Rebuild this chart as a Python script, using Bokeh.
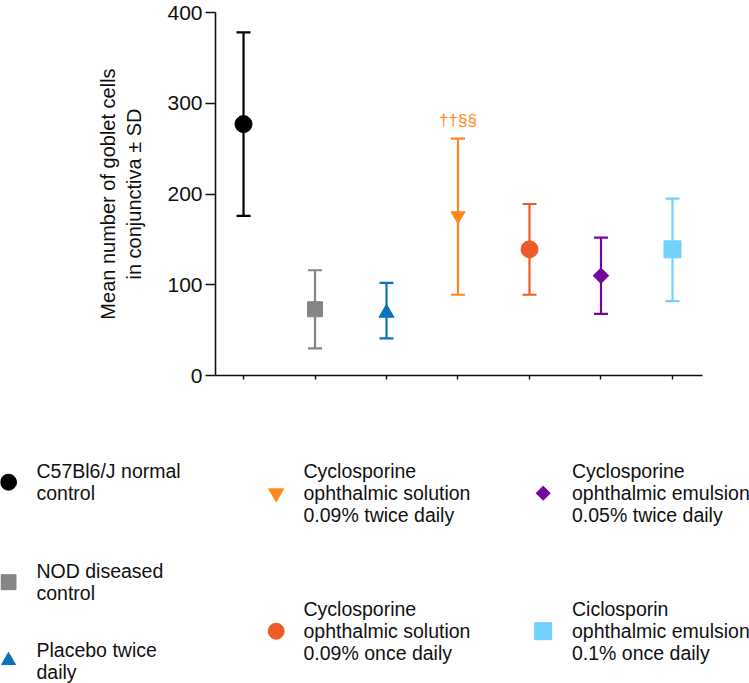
from bokeh.plotting import figure
from bokeh.layouts import column
from bokeh.models import Range1d, FixedTicker
from bokeh.embed import file_html
from bokeh.resources import INLINE
from bokeh.core.properties import value
import math

# ---------------- data ----------------
positions = [1, 2, 3, 4, 5, 6, 7]
legend_labels = [
    "C57Bl6/J normal\ncontrol",
    "NOD diseased\ncontrol",
    "Placebo twice\ndaily",
    "Cyclosporine\nophthalmic solution\n0.09% twice daily",
    "Cyclosporine\nophthalmic solution\n0.09% once daily",
    "Cyclosporine\nophthalmic emulsion\n0.05% twice daily",
    "Ciclosporin\nophthalmic emulsion\n0.1% once daily",
]
means = [277, 73, 69, 176, 139, 110, 139]
upper = [378, 116, 102, 261, 189, 152, 195]
lower = [176, 30, 41, 89, 89, 68, 82]
annot_pos = [4]
annot_val = [261]
annot_text = ["††§§"]
y_ticks = [0, 100, 200, 300, 400]

# ---------------- styles ----------------
colors = ["#000000", "#858585", "#0A72BA", "#FF8717", "#EE5A28", "#74069C", "#72D1FD"]
markers = ["circle", "square", "triangle", "inverted_triangle", "circle", "square", "square"]
sizes = [17, 15, 15, 14, 17, 11, 17]
angles = [0, 0, 0, 0, 0, math.pi / 4, 0]
leg_sizes = [16, 15, 14, 15, 16, 10, 17]
leg_mx = [8, 8, 8, 275.7, 275.7, 542.7, 542.7]
leg_tx = [36, 36, 36, 303, 303, 571.5, 571.5]
leg_y = [481.7, 581.7, 660, 492.7, 630.7, 492.7, 630.7]
FONT = "Liberation Sans"

W = 749
H1 = 390
H2 = 293

p = figure(width=W, height=H1, x_range=Range1d(0.608, 7.42), y_range=Range1d(0, 400),
           output_backend="svg", toolbar_location=None,
           min_border_left=215, min_border_right=W - 702,
           min_border_top=12, min_border_bottom=H1 - 375)
p.frame_align = False
p.outline_line_color = None
p.grid.visible = False
p.background_fill_color = "white"
p.border_fill_color = "white"

p.xaxis.ticker = FixedTicker(ticks=positions)
p.xaxis.major_label_overrides = {t: "" for t in positions}
p.xaxis.major_label_standoff = 0
p.xaxis.major_tick_out = 4
p.xaxis.major_tick_in = 0
p.xaxis.minor_tick_line_color = None
p.xaxis.axis_line_width = 1.6
p.xaxis.major_tick_line_width = 1.4
p.xaxis.axis_line_color = "#111111"
p.xaxis.major_tick_line_color = "#111111"

p.yaxis.ticker = FixedTicker(ticks=y_ticks)
p.yaxis.major_tick_out = 10
p.yaxis.major_tick_in = 0
p.yaxis.minor_tick_line_color = None
p.yaxis.axis_line_width = 1.6
p.yaxis.major_tick_line_width = 1.4
p.yaxis.axis_line_color = "#111111"
p.yaxis.major_tick_line_color = "#111111"
p.yaxis.major_label_text_font = FONT
p.yaxis.major_label_text_font_size = "21px"
p.yaxis.major_label_text_color = "#111111"
p.yaxis.major_label_standoff = 3
p.yaxis.axis_label = "Mean number of goblet cells\nin conjunctiva ± SD"
p.yaxis.axis_label_text_font = FONT
p.yaxis.axis_label_text_font_size = "20px"
p.yaxis.axis_label_text_font_style = "normal"
p.yaxis.axis_label_text_color = "#111111"
p.yaxis.axis_label_standoff = 19

# error bars
p.segment(x0=positions, y0=lower, x1=positions, y1=upper, line_color=colors, line_width=2.2)
p.scatter(positions, upper, marker="dash", size=14, line_color=colors, line_width=2.2)
p.scatter(positions, lower, marker="dash", size=14, line_color=colors, line_width=2.2)
# means
p.scatter(positions, means, marker=markers, size=sizes, fill_color=colors,
          line_color=colors, angle=angles)
# significance annotation
p.text(x=annot_pos, y=annot_val, text=annot_text, text_color="#FF8717",
       text_font=value(FONT), text_font_size="17px", text_align="center",
       text_baseline="middle", y_offset=-18)

# ---------------- legend panel ----------------
q = figure(width=W, height=H2, x_range=Range1d(0, W),
           y_range=Range1d(H1 + H2, H1),
           output_backend="svg", toolbar_location=None, min_border=0,
           x_axis_location=None, y_axis_location=None)
q.frame_align = False
q.outline_line_color = None
q.grid.visible = False
q.background_fill_color = "white"
q.border_fill_color = "white"
q.scatter(leg_mx, leg_y, marker=markers, size=leg_sizes, fill_color=colors,
          line_color=colors, angle=angles)
q.text(x=leg_tx, y=leg_y, text=legend_labels, text_font=value(FONT),
       text_font_size="19.5px", text_color="#111111", text_align="left",
       text_baseline="middle", text_line_height=1.0)

layout = column(p, q, spacing=0)

with open("out.html", "w") as f:
    f.write(file_html(layout, INLINE))
